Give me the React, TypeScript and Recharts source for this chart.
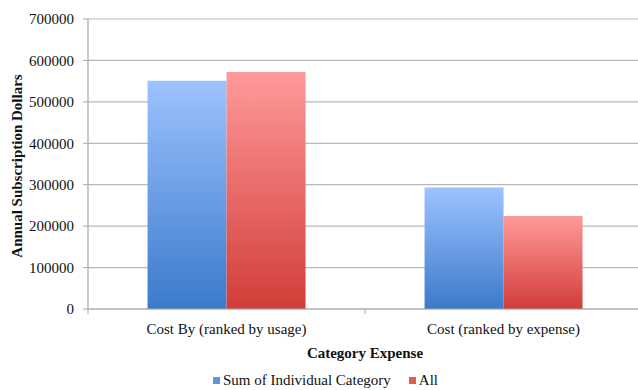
import React from "react";
import { BarChart, Bar, XAxis, YAxis, CartesianGrid, Legend } from "recharts";

// Category labels along the x axis
const categories = ["Cost By (ranked by usage)", "Cost  (ranked by expense)"];
// Annual subscription dollars per series
const sumIndividual = [551000, 293000];
const allValues = [572000, 224500];
// Y axis ticks
const yTicks = [0, 100000, 200000, 300000, 400000, 500000, 600000, 700000];

const seriesNames = ["Sum of Individual Category", "All"];

const data = categories.map((name, i) => ({
  name,
  sum: sumIndividual[i],
  all: allValues[i],
}));

const FONT = "'Liberation Serif', 'Times New Roman', serif";
const AXIS = "#a9a9a9";

const XTick = (props: any) => {
  const { x, y, payload } = props;
  const half = payload && payload.offset ? payload.offset : 0;
  return (
    <g>
      <line x1={x - half} y1={y - 8} x2={x - half} y2={y - 3} stroke={AXIS} strokeWidth={1} />
      <text x={x} y={y + 17} textAnchor="middle" fontFamily={FONT} fontSize={15} fill="#111">
        {payload.value}
      </text>
    </g>
  );
};

const YTitle = (props: any) => {
  const vb = props.viewBox || {};
  const cx = 17;
  const cy = vb.y + vb.height / 2 + 2;
  return (
    <text
      x={cx}
      y={cy}
      transform={`rotate(-90, ${cx}, ${cy})`}
      textAnchor="middle"
      dominantBaseline="central"
      fontFamily={FONT}
      fontWeight="bold"
      fontSize={15}
      fill="#111"
    >
      Annual Subscription Dollars
    </text>
  );
};

const XTitle = (props: any) => {
  const vb = props.viewBox || {};
  return (
    <text
      x={vb.x + vb.width / 2}
      y={vb.y + 49}
      textAnchor="middle"
      fontFamily={FONT}
      fontWeight="bold"
      fontSize={15}
      fill="#111"
    >
      Category Expense
    </text>
  );
};

const LegendContent = () => (
  <div
    style={{
      display: "flex",
      justifyContent: "center",
      alignItems: "center",
      fontFamily: FONT,
      fontSize: 15,
      lineHeight: "17px",
      color: "#111",
      marginLeft: 9,
    }}
  >
    <span style={{ display: "inline-block", width: 7, height: 7, background: "#5b95e3", marginRight: 3 }} />
    <span style={{ marginRight: 18, fontFamily: FONT }}>{seriesNames[0]}</span>
    <span style={{ display: "inline-block", width: 7, height: 7, background: "#e05a56", marginRight: 3 }} />
    <span style={{ fontFamily: FONT }}>{seriesNames[1]}</span>
  </div>
);

export default function App() {
  return (
    <div
      style={{
        position: "fixed",
        left: 0,
        top: 0,
        width: 638,
        height: 390,
        overflow: "hidden",
        background: "#fff",
      }}
    >
      <BarChart
        width={650}
        height={390}
        data={data}
        margin={{ top: 19, right: 8, bottom: 0, left: 0 }}
        barGap={0}
        barCategoryGap="21.5%"
      >
        <defs>
          <linearGradient id="gBlue" x1="0" y1="0" x2="0" y2="1">
            <stop offset="0%" stopColor="#9dc2ff" />
            <stop offset="100%" stopColor="#3b7acb" />
          </linearGradient>
          <linearGradient id="gRed" x1="0" y1="0" x2="0" y2="1">
            <stop offset="0%" stopColor="#ff9a9a" />
            <stop offset="100%" stopColor="#d13d38" />
          </linearGradient>
        </defs>
        <CartesianGrid vertical={false} stroke="#b9b9b9" strokeWidth={1.2} />
        <XAxis
          dataKey="name"
          height={60}
          axisLine={{ stroke: AXIS, strokeWidth: 1.2 }}
          tickLine={false}
          tick={<XTick />}
          interval={0}
          label={<XTitle />}
        />
        <YAxis
          width={88}
          domain={[0, 700000]}
          ticks={yTicks}
          interval={0}
          axisLine={{ stroke: AXIS, strokeWidth: 1.2 }}
          tickLine={{ stroke: AXIS }}
          tickSize={5}
          tickMargin={9}
          tick={{ fontFamily: FONT, fontSize: 15, fill: "#111" }}
          label={<YTitle />}
        />
        <Legend
          verticalAlign="bottom"
          height={21}
          wrapperStyle={{ top: 372, bottom: "auto" }}
          content={<LegendContent />}
        />
        <Bar dataKey="sum" name={seriesNames[0]} fill="url(#gBlue)" isAnimationActive={false} />
        <Bar dataKey="all" name={seriesNames[1]} fill="url(#gRed)" isAnimationActive={false} />
      </BarChart>
    </div>
  );
}
